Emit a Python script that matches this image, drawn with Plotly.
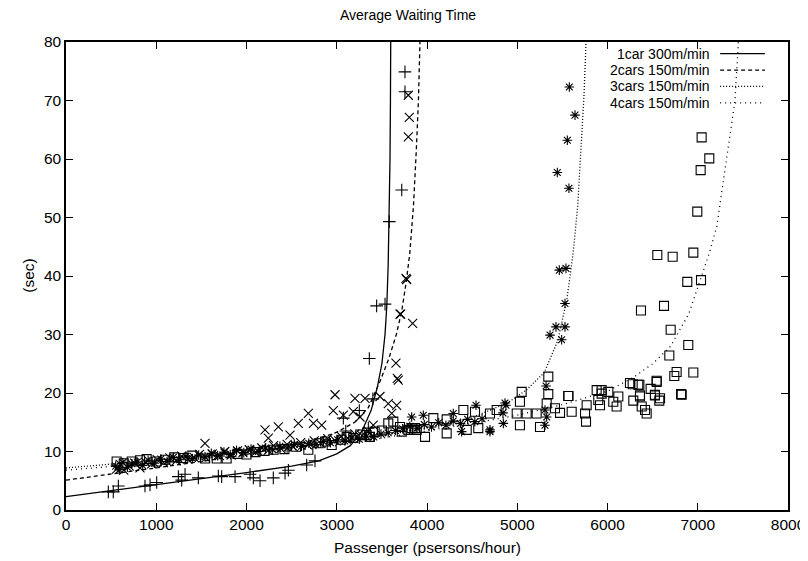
import plotly.graph_objects as go

# ---------------- model curves ----------------
c1_x = [0, 500, 1000, 1500, 2000, 2500, 2800, 3000, 3150, 3280, 3380, 3450, 3500, 3535, 3555, 3570, 3582, 3590, 3595, 3598]
c1_y = [2.3, 3.3, 4.4, 5.4, 6.4, 7.5, 8.4, 9.6, 11.0, 13.5, 17.0, 21.0, 25.0, 30.0, 35.0, 42.0, 50.0, 60.0, 70.0, 80.0]

c2_x = [0, 500, 1000, 1500, 2000, 2500, 2800, 3000, 3200, 3350, 3480, 3580, 3660, 3720, 3770, 3810, 3850, 3880, 3905, 3922]
c2_y = [5.1, 6.1, 7.2, 8.3, 9.5, 11.0, 12.2, 13.3, 15.0, 17.5, 22.0, 26.0, 30.0, 34.0, 39.0, 44.0, 52.0, 61.0, 70.0, 80.0]

c3_x = [0, 500, 1000, 1500, 2000, 2500, 3000, 3500, 4000, 4500, 4900, 5100, 5300, 5450, 5550, 5620, 5670, 5710, 5740, 5762]
c3_y = [7.2, 7.8, 8.5, 9.2, 9.9, 10.7, 11.6, 12.7, 14.0, 15.8, 18.4, 20.5, 23.5, 29.0, 36.0, 44.0, 52.0, 62.0, 71.0, 80.0]

c4_x = [0, 500, 1000, 2000, 3000, 3700, 4500, 5000, 5500, 6000, 6300, 6500, 6700, 6900, 7030, 7130, 7210, 7283, 7357, 7413, 7450]
c4_y = [6.8, 7.4, 8.1, 9.4, 11.0, 12.8, 14.8, 16.2, 18.0, 20.3, 22.8, 25.0, 28.0, 33.5, 39.3, 44.0, 48.4, 56.4, 64.4, 70.0, 80.0]

# ---------------- measured points ----------------
p1_x = [469, 524, 580, 875, 931, 1005, 1245, 1282, 1319, 1466, 1688, 1725, 1873, 2039, 2076, 2150, 2297, 2427, 2464,
        2667, 2759, 3073, 3100, 3250, 3350, 3400, 3361, 3442, 3535, 3582, 3720, 3756, 3756]
p1_y = [3.1, 3.1, 4.1, 4.1, 4.3, 4.7, 5.7, 5.1, 6.1, 5.5, 5.8, 5.7, 5.7, 6.1, 5.5, 5.0, 5.5, 6.3, 6.8,
        7.7, 8.4, 15.7, 13.5, 17.0, 14.0, 19.0, 25.9, 34.9, 35.2, 49.3, 54.7, 71.5, 74.9]

p2_x = [560, 600, 640, 700, 760, 820, 880, 950, 1010, 1080, 1150, 1220, 1280, 1350, 1420, 1480, 1550, 1620, 1700, 1760,
        1830, 1900, 1960, 2030, 2100, 2170, 2240, 2300, 2380, 2450, 2520, 2600, 2680, 2750, 2820, 2900, 2980, 3050,
        3120, 3200, 3280, 3350,
        1540, 2205, 2242, 2353, 2482, 2574, 2685, 2741, 2833, 2962, 2981, 3073, 3183, 3202, 3258, 3313, 3405, 3479,
        3571, 3609, 3664, 3682, 3671, 3656, 3701, 3708, 3841, 3767, 3775, 3793, 3804, 3793]
p2_y = [7.0, 7.8, 6.8, 7.5, 8.0, 7.2, 8.2, 7.9, 8.6, 8.1, 8.9, 8.4, 9.2, 8.7, 9.0, 9.5, 8.9, 9.6, 9.3, 10.0,
        9.4, 10.1, 9.8, 10.3, 9.9, 10.6, 10.2, 11.0, 10.5, 11.2, 10.8, 11.5, 11.1, 11.8, 11.4, 12.2, 11.9, 12.6,
        12.3, 13.0, 12.7, 13.5,
        11.4, 13.7, 12.3, 14.2, 12.8, 14.8, 16.5, 14.8, 14.5, 17.0, 19.7, 16.2, 16.8, 19.1, 15.9, 19.1, 14.5, 19.4,
        18.2, 16.5, 17.9, 22.2, 22.5, 25.1, 33.5, 33.5, 31.9, 39.6, 39.4, 63.8, 67.1, 70.9]

p3_x = [550, 590, 630, 680, 730, 790, 850, 910, 980, 1050, 1120, 1190, 1260, 1330, 1400, 1470, 1540, 1610, 1680, 1750,
        1820, 1890, 1970, 2050, 2130, 2210, 2290, 2370, 2450, 2530, 2610, 2690, 2770, 2850, 2930, 3010, 3090, 3170,
        3250, 3330, 3410, 3490, 3570, 3650, 3730, 3810, 3890, 3970, 4050, 4130, 4210, 4290, 4370, 4450, 4530, 4610,
        3830, 3959, 4291, 4384, 4543, 4698, 4698, 4846, 4875, 4842, 4864, 5307, 5326, 5307, 5319,
        5363, 5492, 5429, 5529, 5529, 5466, 5540, 5573, 5444, 5555, 5640, 5577]
p3_y = [7.5, 6.9, 8.1, 7.3, 7.9, 8.2, 7.6, 8.5, 8.0, 8.7, 8.3, 9.0, 8.6, 9.2, 8.8, 9.4, 9.1, 9.7, 9.3, 9.9,
        9.5, 10.2, 9.8, 10.4, 10.0, 10.6, 10.3, 10.9, 10.6, 11.2, 10.9, 11.4, 11.2, 11.7, 11.5, 12.0, 11.8, 12.3,
        12.1, 12.6, 12.5, 13.0, 13.2, 13.6, 13.9, 14.3, 14.0, 14.6, 14.2, 14.9, 14.5, 15.2, 14.8, 15.5, 15.1, 15.6,
        15.9, 16.2, 16.5, 13.4, 17.9, 13.4, 13.7, 14.8, 17.9, 16.6, 18.3, 14.5, 15.9, 17.1, 21.2,
        29.9, 29.1, 31.3, 31.3, 35.3, 41.0, 41.3, 55.0, 57.7, 63.2, 67.5, 72.3]

p4_x = [561, 640, 728, 820, 894, 1005, 1100, 1200, 1300, 1400, 1540, 1670, 1780, 1900, 2000, 2100, 2200, 2300, 2420,
        2550, 2685, 2800, 2870, 2944, 3050, 3110, 3183, 3260, 3331, 3368, 3420, 3500, 3571, 3627, 3701, 3720, 3793,
        3830, 3867, 3886, 3978, 4070, 4218, 4218, 4403, 4440, 4532, 4568, 4698, 4772, 4994, 5030, 5030, 5049, 5104,
        5215, 5252, 5326, 5344, 5344, 5418, 5474, 5566, 5566, 5603, 5751, 5762, 5769, 5880, 5898, 5917, 5935, 5935,
        6009, 6064, 6101, 6120, 6249, 6279, 6286, 6341, 6353, 6360, 6360, 6379, 6416, 6434, 6478, 6526, 6526, 6545,
        6545, 6574, 6582, 6815, 6822, 6740, 6766, 6951, 6685, 6895, 6700, 6371, 6626, 6884, 7036, 6552, 6722, 6951,
        6995, 7032, 7128, 7043]
p4_y = [8.3, 8.0, 8.3, 8.5, 8.7, 8.3, 8.6, 9.0, 8.9, 9.3, 8.8, 8.8, 8.8, 9.6, 9.5, 9.9, 10.1, 10.3, 10.4,
        10.8, 10.3, 11.4, 11.7, 11.1, 12.0, 12.5, 12.3, 12.9, 12.8, 12.5, 13.4, 13.6, 14.8, 15.1, 14.2, 13.4, 13.7,
        14.0, 14.0, 13.7, 12.5, 15.7, 13.1, 15.5, 17.1, 13.7, 16.8, 14.0, 16.5, 17.1, 16.5, 18.5, 14.5, 20.2, 16.5,
        16.5, 14.2, 18.2, 19.8, 22.8, 17.4, 16.6, 19.5, 19.5, 16.8, 16.5, 15.1, 17.9, 20.5, 18.8, 17.9, 19.9, 20.5,
        20.2, 18.5, 17.7, 19.4, 21.7, 21.5, 18.7, 21.4, 21.4, 19.4, 19.6, 17.7, 17.1, 16.5, 20.7, 19.7, 19.6, 21.9,
        22.1, 18.7, 19.1, 19.8, 19.7, 22.9, 23.6, 23.5, 26.4, 28.2, 30.8, 34.1, 34.9, 39.0, 39.3, 43.6, 43.3, 44.0,
        51.0, 58.1, 60.1, 63.7]

legend_labels = ["1car 300m/min", "2cars 150m/min", "3cars 150m/min", "4cars 150m/min"]
x_ticks = [0, 1000, 2000, 3000, 4000, 5000, 6000, 7000, 8000]
y_ticks = [0, 10, 20, 30, 40, 50, 60, 70, 80]

FONT = "Liberation Sans, Arial, Helvetica, sans-serif"
dashes = ["solid", "4px,3px", "1px,2px", "1px,4px"]

fig = go.Figure()

curves = [(c1_x, c1_y), (c2_x, c2_y), (c3_x, c3_y), (c4_x, c4_y)]
for (cx, cy), d in zip(curves, dashes):
    fig.add_trace(go.Scatter(x=cx, y=cy, mode="lines", line=dict(color="black", width=1.3, dash=d),
                             showlegend=False, hoverinfo="skip"))

pts = [(p1_x, p1_y, "cross-thin-open", 9), (p2_x, p2_y, "x-thin-open", 9),
       (p3_x, p3_y, "asterisk-open", 8), (p4_x, p4_y, "square-open", 9)]
for px, py, sym, sz in pts:
    fig.add_trace(go.Scatter(x=px, y=py, mode="markers",
                             marker=dict(symbol=sym, size=sz, color="black",
                                         line=dict(color="black", width=1.1)),
                             showlegend=False))

# gnuplot-style key: text right-aligned, sample line on the right
rows = [0.975, 0.940, 0.905, 0.870]
for lab, d, ry in zip(legend_labels, dashes, rows):
    fig.add_annotation(x=0.895, y=ry, xref="paper", yref="paper", text=lab, showarrow=False,
                       xanchor="right", yanchor="middle",
                       font=dict(family=FONT, size=14, color="black"))
    fig.add_shape(type="line", xref="paper", yref="paper", x0=0.906, x1=0.968, y0=ry, y1=ry,
                  line=dict(color="black", width=1.3, dash=d))

# axis titles
fig.add_annotation(x=0.5, y=-0.081, xref="paper", yref="paper", text="Passenger (psersons/hour)",
                   showarrow=False, xanchor="center", yanchor="middle",
                   font=dict(family=FONT, size=15.5, color="black"))
fig.add_annotation(x=-0.053, y=0.5, xref="paper", yref="paper", text="(sec)", textangle=-90,
                   showarrow=False, xanchor="center", yanchor="middle",
                   font=dict(family=FONT, size=15.5, color="black"))

axis_common = dict(showline=True, linecolor="black", linewidth=1.5, mirror="allticks",
                   ticks="inside", ticklen=7, tickcolor="black", tickwidth=1.2,
                   showgrid=False, zeroline=False, automargin=False,
                   tickfont=dict(family=FONT, size=15.5, color="black"))

# page body adds an 8px offset, so the figure is 800x553 and shifted margins
fig.update_layout(
    width=800, height=553,
    paper_bgcolor="white", plot_bgcolor="white",
    margin=dict(l=58, r=20, t=34, b=51),
    title=dict(text="Average Waiting Time", x=0.5, xanchor="center", y=0.987, yanchor="middle",
               font=dict(family=FONT, size=14, color="black")),
    xaxis=dict(range=[0, 8000], tickvals=x_ticks, ticktext=[str(v) for v in x_ticks], **axis_common),
    yaxis=dict(range=[0, 80], tickvals=y_ticks, ticktext=[str(v) for v in y_ticks], **axis_common),
    showlegend=False,
)

fig.write_html("out.html")
